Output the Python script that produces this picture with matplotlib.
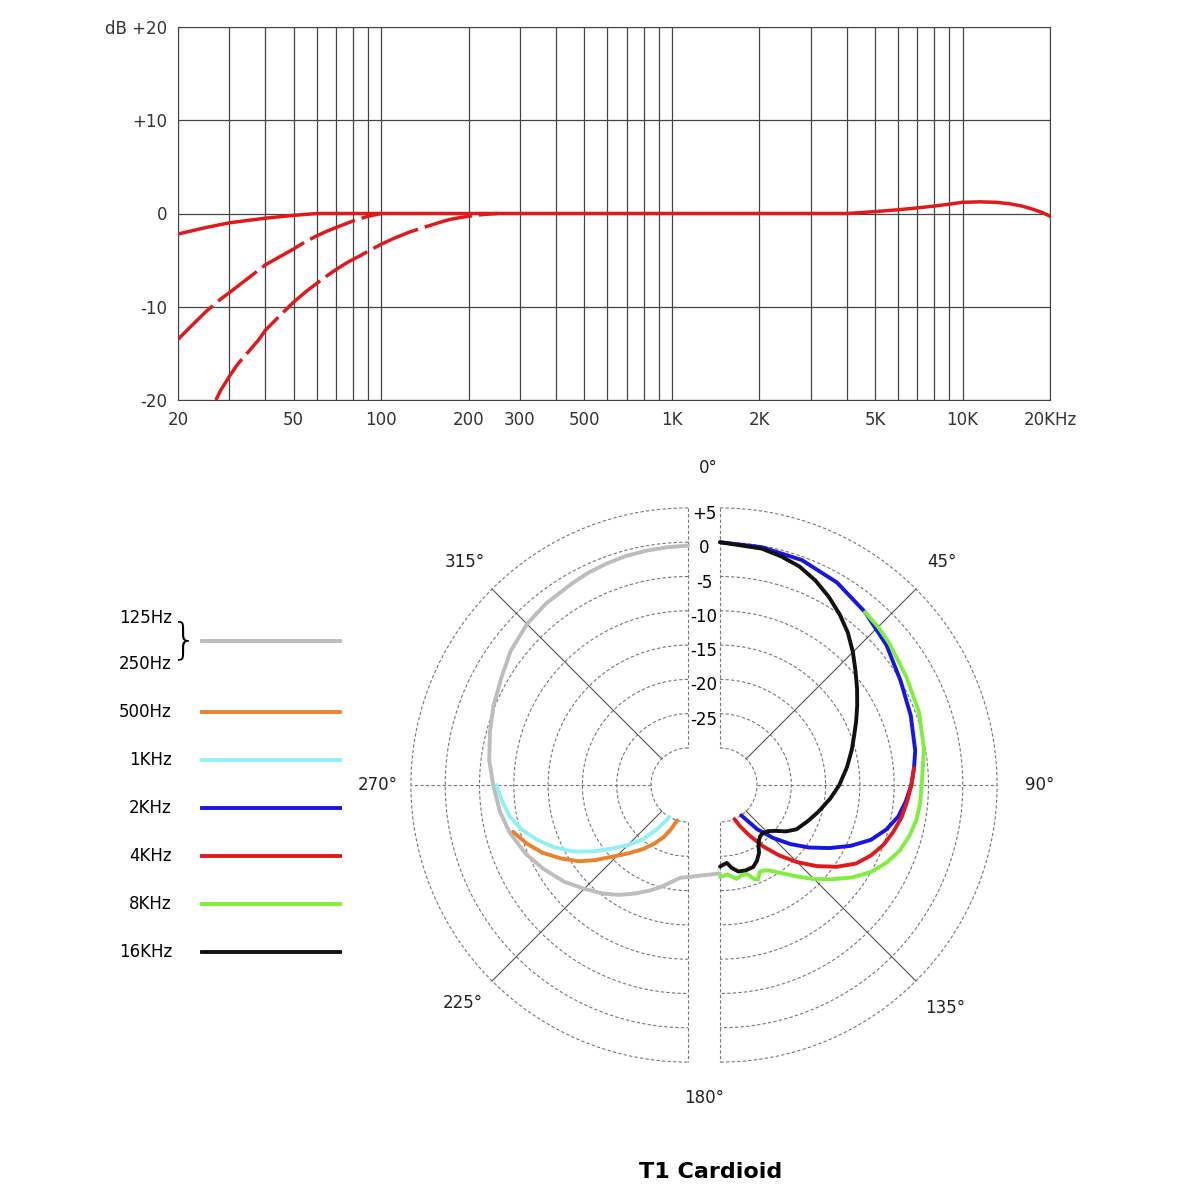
import numpy as np
import matplotlib
matplotlib.use('Agg')
import matplotlib.pyplot as plt

# frequency response (Hz, dB)
main_f = [20, 25, 30, 40, 50, 60, 100, 1000, 4000, 5000, 6000, 7000, 8000, 9000, 10000, 11500, 13000, 14500, 16000, 17500, 19000, 20000]
main_db = [-2.2, -1.5, -1.0, -0.5, -0.2, 0, 0, 0, 0, 0.2, 0.4, 0.6, 0.8, 1.0, 1.2, 1.25, 1.2, 1.05, 0.8, 0.45, 0.05, -0.3]
cut1_f = [20, 22, 25, 28, 30, 35, 40, 45, 50, 55, 60, 65, 70, 80, 90, 100]
cut1_db = [-13.5, -12.2, -10.5, -9.2, -8.5, -6.9, -5.5, -4.6, -3.8, -3.0, -2.4, -1.9, -1.5, -0.8, -0.3, 0]
cut2_f = [27, 28, 30, 32, 35, 38, 40, 45, 50, 55, 60, 65, 70, 77, 85, 92, 100, 110, 125, 140, 150, 165, 175, 190, 200, 225, 250]
cut2_db = [-20, -19, -17.5, -16.2, -14.8, -13.5, -12.5, -10.9, -9.5, -8.4, -7.5, -6.7, -6, -5.2, -4.5, -3.9, -3.3, -2.7, -2.0, -1.5, -1.2, -0.8, -0.6, -0.4, -0.3, -0.1, 0]
xtick_vals = [20, 50, 100, 200, 300, 500, 1000, 2000, 5000, 10000, 20000]
xtick_labels = ['20', '50', '100', '200', '300', '500', '1K', '2K', '5K', '10K', '20KHz']
ytick_vals = [-20, -10, 0, 10, 20]
ytick_labels = ['-20', '-10', '0', '+10', 'dB +20']

# polar pattern (angle clockwise from front, dB)
polar = {
    'gray': ([360, 355, 350, 345, 340, 335, 330, 322, 315, 307, 300, 292, 285, 277, 270, 262, 255, 247, 240, 232, 225, 218, 212, 206, 200, 195, 190, 185, 180],
             [-0.5, -0.6, -0.7, -0.8, -1.0, -1.2, -1.5, -1.8, -2.2, -3.0, -4, -4.8, -5.5, -6.2, -7, -7.7, -8.5, -9.7, -11, -12.5, -14, -15.3, -16.5, -17.8, -19, -20, -21, -21.8, -22.5]),
    'cyan': ([270, 265, 260, 255, 250, 245, 240, 235, 230, 225, 220, 215, 210],
             [-7.5, -8.2, -9, -10.3, -12, -13.9, -16, -18.5, -21, -23, -25, -27.5, -30]),
    'orange': ([255, 250, 245, 240, 235, 231, 227, 221, 215, 210, 205, 201, 197],
               [-9, -10.4, -12, -14, -16, -18, -20, -22.2, -24, -25.5, -27, -28.5, -30]),
    'blue': ([0, 10, 20, 30, 40, 50, 60, 70, 80, 85, 90, 95, 100, 105, 110, 115, 120, 125, 130, 135, 140, 145],
             [0, -0.2, -0.5, -1.3, -2.5, -3.7, -5, -5.8, -6.5, -7, -7.5, -8.2, -9, -10.3, -12, -14.4, -17, -19.5, -22, -24.5, -27, -30]),
    'red': ([85, 90, 95, 100, 105, 110, 115, 120, 125, 130, 135, 140, 145, 150, 154, 157],
            [-7, -7.5, -8, -8.5, -9.2, -10, -11.1, -12.5, -14.6, -17, -19.5, -22, -24.5, -27, -28.7, -30]),
    'green': ([40, 45, 50, 60, 70, 80, 90, 95, 100, 105, 110, 115, 120, 125, 130, 135, 140, 145, 150, 153, 155, 157, 158, 160, 163, 166, 170, 175, 180],
              [-2.5, -2.8, -3.2, -4, -4.5, -5.2, -6, -6.1, -6.3, -6.8, -7.5, -8.6, -10, -11.9, -14, -16, -18, -19.7, -21, -21.4, -21.5, -21, -20.5, -20.8, -21.8, -21.9, -21.5, -22.3, -22]),
    'black': ([0, 10, 15, 20, 25, 30, 35, 40, 45, 50, 55, 60, 65, 70, 75, 82, 90, 97, 105, 112, 120, 125, 130, 134, 138, 142, 145, 148, 150, 154, 158, 163, 168, 172, 175, 180],
              [0, -0.4, -0.9, -1.5, -2.5, -3.7, -5, -6.4, -8, -9.6, -11, -12.3, -13.5, -14.6, -15.5, -16.7, -18, -19.2, -20.5, -21.5, -22.5, -23.6, -25, -25.7, -26, -25.9, -25.5, -24.8, -24, -23.1, -22.5, -22.4, -22.5, -23.2, -24, -23.5]),
}
colors = {'gray': '#bdbdbd', 'cyan': '#8ff0f5', 'orange': '#e8822e', 'blue': '#1515e6',
          'red': '#e01a1a', 'green': '#7ef03c', 'black': '#111111'}
legend_labels = ['500Hz', '1KHz', '2KHz', '4KHz', '8KHz', '16KHz']
legend_keys = ['orange', 'cyan', 'blue', 'red', 'green', 'black']

fig = plt.figure(figsize=(12, 12), dpi=100)

# ---- top: frequency response
ax = fig.add_axes([178 / 1200, 1 - 400 / 1200, 872 / 1200, 373 / 1200])
ax.set_xscale('log')
ax.set_xlim(20, 20000)
ax.set_ylim(-20, 20)
red = '#e01a1a'
ax.plot(main_f, main_db, color=red, lw=2.5, zorder=3)
ax.plot(cut1_f, cut1_db, color=red, lw=2.5, dashes=(14, 2), zorder=3)
ax.plot(cut2_f, cut2_db, color=red, lw=2.5, dashes=(14, 2), zorder=3)
ax.set_xticks(xtick_vals)
ax.set_xticklabels(xtick_labels, fontsize=12, color='#333333')
ax.set_yticks(ytick_vals)
ax.set_yticklabels(ytick_labels, fontsize=12, color='#333333')
ax.xaxis.set_minor_formatter(plt.NullFormatter())
ax.tick_params(which='both', length=0, pad=8)
ax.grid(True, which='both', axis='x', color='#444444', lw=0.9)
ax.grid(True, which='major', axis='y', color='#444444', lw=0.9)
for s in ax.spines.values():
    s.set_color('#444444')

# ---- bottom: polar pattern in pixel coordinates
pa = fig.add_axes([0, 0, 1, 1])
pa.set_xlim(0, 1200)
pa.set_ylim(1200, 0)
pa.axis('off')
cx, cy, gap = 704, 785, 16
r0, step = 37, 34.3


def rad(db):
    return r0 + (np.asarray(db) + 30) / 5 * step


ring_db = [5, 0, -5, -10, -15, -20, -25, -30]
for db in ring_db:
    r = rad(db)
    t = np.linspace(0, np.pi, 200)
    pa.plot(cx + gap + r * np.sin(t), cy - r * np.cos(t), color='#777777', lw=0.8, ls=(0, (3, 2)))
    pa.plot(cx - gap - r * np.sin(t), cy - r * np.cos(t), color='#777777', lw=0.8, ls=(0, (3, 2)))
rmax, rmin = rad(5), rad(-30)
for sgn in (1, -1):
    pa.plot([cx + sgn * gap, cx + sgn * gap], [cy - rmax, cy - rmin], color='#777777', lw=0.8, ls=(0, (3, 2)))
    pa.plot([cx + sgn * gap, cx + sgn * gap], [cy + rmin, cy + rmax], color='#777777', lw=0.8, ls=(0, (3, 2)))
    pa.plot([cx + sgn * (gap + rmin), cx + sgn * (gap + rmax)], [cy, cy], color='#777777', lw=0.8, ls=(0, (3, 2)))
    for a in (45, 135):
        t = np.radians(a)
        pa.plot([cx + sgn * (gap + rmin * np.sin(t)), cx + sgn * (gap + rmax * np.sin(t))],
                [cy - rmin * np.cos(t), cy - rmax * np.cos(t)], color='#555555', lw=0.8)

for db in [5, 0, -5, -10, -15, -20, -25]:
    lab = '+5' if db == 5 else str(db)
    pa.text(cx, cy - rad(db) + 6, lab, ha='center', va='center', fontsize=12,
            bbox=dict(fc='white', ec='none', pad=0.5))

for name, (ang, dbs) in polar.items():
    t = np.radians(ang)
    r = rad(dbs)
    off = np.where(np.asarray(ang) > 180, -gap, gap)
    pa.plot(cx + off + r * np.sin(t), cy - r * np.cos(t), color=colors[name], lw=2.8,
            solid_capstyle='round', solid_joinstyle='round')

angle_labels = [('0°', 708, 468), ('45°', 942, 562), ('90°', 1040, 785), ('135°', 945, 1008),
                ('180°', 704, 1098), ('225°', 463, 1003), ('270°', 378, 785), ('315°', 465, 562)]
for txt, x, y in angle_labels:
    pa.text(x, y, txt, ha='center', va='center', fontsize=12, color='#222222')

# legend
pa.text(172, 618, '125Hz', ha='right', va='center', fontsize=12)
pa.text(172, 664, '250Hz', ha='right', va='center', fontsize=12)
pa.text(184, 641, '}', ha='center', va='center', fontsize=30, fontweight='light')
pa.plot([202, 340], [641, 641], color=colors['gray'], lw=2.8)
for i, (lab, key) in enumerate(zip(legend_labels, legend_keys)):
    y = 712 + i * 48
    pa.text(172, y, lab, ha='right', va='center', fontsize=12)
    pa.plot([202, 340], [y, y], color=colors[key], lw=2.8)

pa.text(711, 1172, 'T1 Cardioid', ha='center', va='center', fontsize=16, fontweight='bold')

fig.savefig('out.png', dpi=100, facecolor='white')
